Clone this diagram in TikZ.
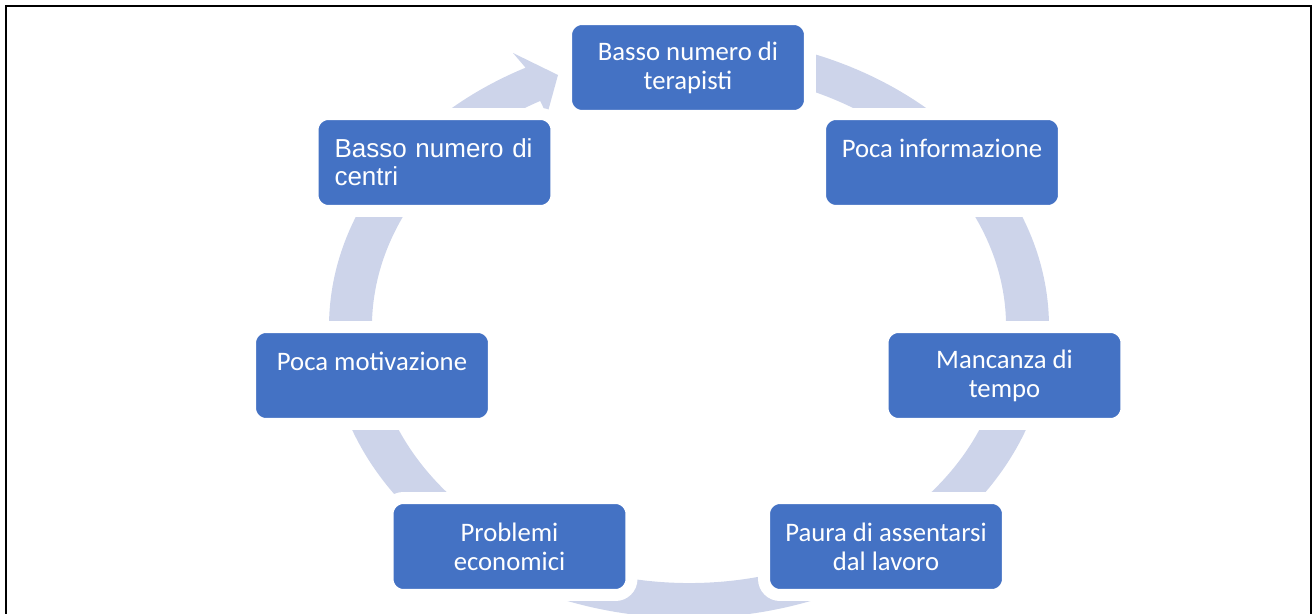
\documentclass[tikz,border=0pt]{standalone}
\usepackage{fontspec}
\setmainfont{Carlito}
\newfontfamily\arialfont{Liberation Sans}
\usepackage{xcolor}
\usetikzlibrary{calc}
\definecolor{causeblue}{RGB}{68,114,196}
\definecolor{ringblue}{RGB}{205,212,234}
\tikzset{
    cause/.style={
        rectangle,
        rounded corners=0.32cm,
        draw=white,
        line width=0.24cm,
        fill=causeblue,
        text=white,
        align=center,
        minimum width=4.88cm,
        minimum height=1.94cm,
        font=\fontsize{15.2}{16.5}\selectfont,
    },
    frameline/.style={
        line width=1.2pt,
        draw=black,
    },
}

\begin{document}
\begin{tikzpicture}[x=0.02cm, y=0.02cm]
          \useasboundingbox (0,0) rectangle (1312,-614);
          \coordinate (c) at (689,-327);

          % ring arrow behind the boxes
          \fill[ringblue] ($(c)+(90:360 and 291)$)
              arc[start angle=90, end angle=-243, x radius=360, y radius=291]
              -- (513,-53) -- (558,-75) -- (547,-115)
              -- ($(c)+(118:317 and 256)$)
              arc[start angle=118, end angle=450, x radius=317, y radius=256] -- cycle;

          \node [cause] (terapisti) at (688,-67.5) {Basso numero di\\terapisti};
          \node [cause] (info) at (942,-162.5) {Poca informazione\\\phantom{o}};
          \node [cause] (tempo) at (1004.5,-375.5) {Mancanza di\\tempo};
          \node [cause] (lavoro) at (886,-546.5) {Paura di assentarsi\\dal lavoro};
          \node [cause] (economici) at (509.5,-546.5) {Problemi\\economici};
          \node [cause] (motivazione) at (372,-375.5) {Poca motivazione\\\phantom{o}};
          \node [cause, align=left, text width=4cm,
                 font=\arialfont\fontsize{14.8}{16}\selectfont] (centri) at (434.5,-162.5) {Basso numero di\\centri};

          \draw[frameline] (6,-614) -- (6,-6) -- (1311,-6) -- (1311,-614);
        \end{tikzpicture}
\end{document}
